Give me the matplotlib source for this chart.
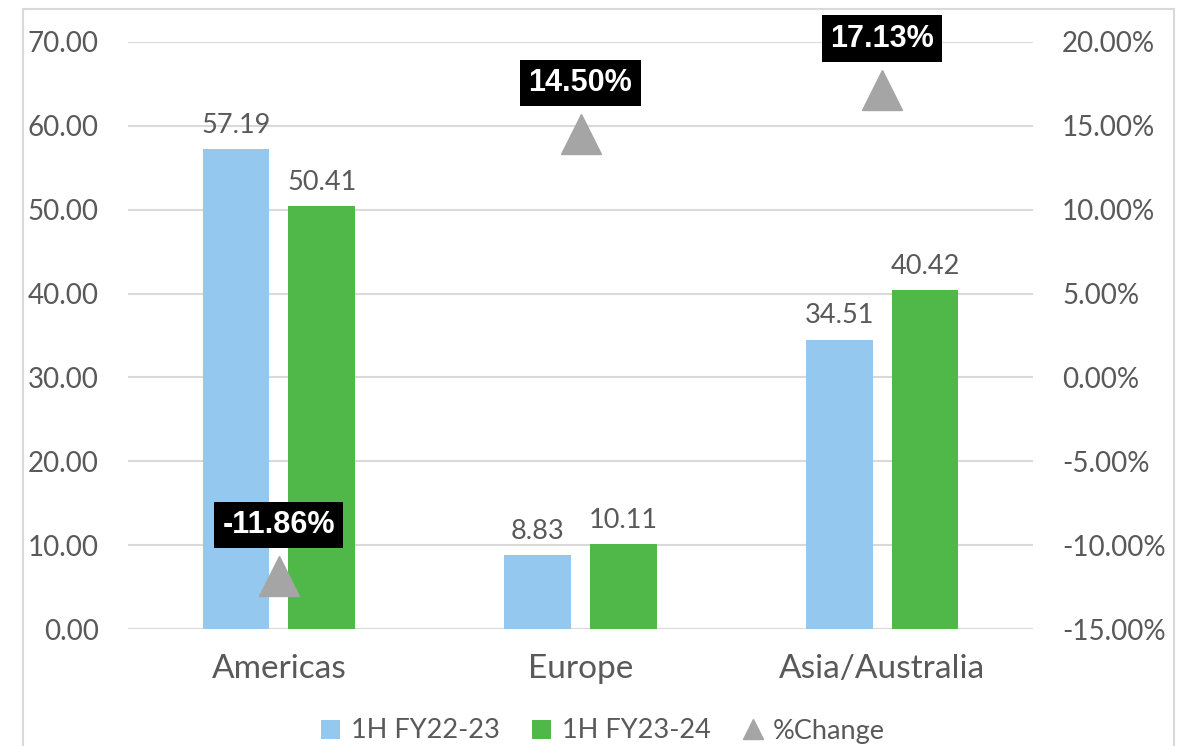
import matplotlib
matplotlib.use("Agg")
import matplotlib.pyplot as plt
from matplotlib.patches import Rectangle
from matplotlib.ticker import FuncFormatter
import numpy as np

categories = ["Americas", "Europe", "Asia/Australia"]
fy2223 = [57.19, 8.83, 34.51]
fy2324 = [50.41, 10.11, 40.42]
pct_change = [-11.86, 14.50, 17.13]
series_names = ["1H FY22-23", "1H FY23-24", "%Change"]
left_ticks = [0, 10, 20, 30, 40, 50, 60, 70]
right_ticks = [-15, -10, -5, 0, 5, 10, 15, 20]

BLUE = "#95C8EE"
GREEN = "#50B848"
GRAY = "#A5A5A5"
TXT = "#595959"
GRID = "#D9D9D9"
FONT = "Lato"

W, H = 1191, 746
fig = plt.figure(figsize=(W / 100, H / 100), dpi=100)
ax = fig.add_axes([128 / W, 1 - 629 / H, (1033 - 128) / W, (629 - 42) / H])
ax2 = ax.twinx()

x = np.arange(len(categories))
bw = 0.22
off = 0.142
b1 = ax.bar(x - off, fy2223, bw, color=BLUE, label=series_names[0], zorder=2)
b2 = ax.bar(x + off, fy2324, bw, color=GREEN, label=series_names[1], zorder=2)

for bars, vals in ((b1, fy2223), (b2, fy2324)):
    for r, v in zip(bars, vals):
        ax.annotate(f"{v:.2f}", (r.get_x() + r.get_width() / 2, v),
                    xytext=(0, 8), textcoords="offset points",
                    ha="center", va="bottom", fontsize=19.5, color=TXT, family=FONT)

ax.set_xlim(-0.5, len(categories) - 0.5)
ax.set_ylim(0, 70)
ax.set_yticks(left_ticks)
ax.yaxis.set_major_formatter(FuncFormatter(lambda v, p: f"{v:.2f}"))
ax.grid(axis="y", color=GRID, linewidth=1.5, zorder=0)
ax.set_axisbelow(True)
ax.set_xticks(x)
ax.set_xticklabels(categories)

ax2.set_ylim(-15, 20)
ax2.set_yticks(right_ticks)
ax2.yaxis.set_major_formatter(FuncFormatter(lambda v, p: f"{v:.2f}%"))
tri, = ax2.plot(x, pct_change, linestyle="none", marker="^", markersize=29,
                color=GRAY, label=series_names[2], zorder=3)
for xi, v in zip(x, pct_change):
    ax2.annotate(f"{v:.2f}%", (xi, v), xytext=(0, 37), textcoords="offset points",
                 ha="center", va="center", fontsize=22, fontweight="bold",
                 color="white", family="Liberation Sans",
                 bbox=dict(boxstyle="square,pad=0.27", fc="black", ec="none"))

for a in (ax, ax2):
    for s in a.spines.values():
        s.set_visible(False)
    a.tick_params(length=0, labelsize=20, labelcolor=TXT)
    for lab in a.get_xticklabels() + a.get_yticklabels():
        lab.set_family(FONT)
ax.tick_params(axis="y", pad=21)
ax2.tick_params(axis="y", pad=21)
ax.tick_params(axis="x", pad=18, labelsize=24)

fig.legend(handles=[b1, b2, tri], labels=series_names, loc="center",
           bbox_to_anchor=(603 / W, 1 - 731 / H), ncol=3, frameon=False,
           prop={"family": FONT, "size": 19.5}, labelcolor=TXT,
           handlelength=0.7, handleheight=0.7, handletextpad=0.4,
           columnspacing=1.2, markerscale=0.5)

fig.patches.append(Rectangle((23 / W, -0.05), (1174 - 23) / W, 1.05 - 9 / H,
                             transform=fig.transFigure, fill=False,
                             edgecolor=GRID, linewidth=1.5))

fig.savefig("out.png", dpi=100)
